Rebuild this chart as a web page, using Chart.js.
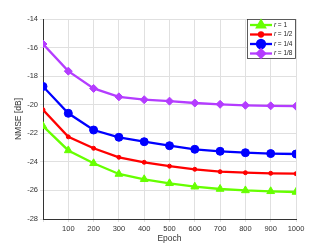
<!DOCTYPE html>
<html>
<head>
<meta charset="utf-8">
<script src="https://cdn.jsdelivr.net/npm/chart.js@4.4.0/dist/chart.umd.min.js"></script>
<style>
html, body { margin: 0; padding: 0; background: #fff; }
#wrap { width: 327px; height: 246px; }
</style>
</head>
<body>
<div id="wrap"><canvas id="nmseChart" width="327" height="246"></canvas></div>
<script>
// donnees
var epochs = [0, 100, 200, 300, 400, 500, 600, 700, 800, 900, 1000];
var seriesNames = ['1', '1/2', '1/4', '1/8'];
var nmseR1 = [-21.5, -23.2, -24.1, -24.85, -25.22, -25.5, -25.74, -25.9, -26.0, -26.06, -26.11];
var nmseR2 = [-20.35, -22.25, -23.05, -23.68, -24.03, -24.3, -24.52, -24.69, -24.76, -24.8, -24.83];
var nmseR4 = [-18.72, -20.6, -21.77, -22.28, -22.59, -22.87, -23.12, -23.26, -23.36, -23.42, -23.45];
var nmseR8 = [-15.75, -17.65, -18.86, -19.45, -19.65, -19.75, -19.88, -19.97, -20.04, -20.08, -20.1];
var yTicks = [-28, -26, -24, -22, -20, -18, -16, -14];

var colors = ['rgb(102,255,0)', 'rgb(255,0,0)', 'rgb(0,0,255)', 'rgb(180,60,255)'];
var markers = ['triangle', 'circle', 'circle', 'rectRot'];
var radii = [4.5, 2, 4, 4];
var allSeries = [nmseR1, nmseR2, nmseR4, nmseR8];

function toPoints(values) {
	return values.map(function(v, i) { return {x: epochs[i], y: v}; });
}

var datasets = allSeries.map(function(values, k) {
	return {
		label: 'r = ' + seriesNames[k],
		data: toPoints(values),
		borderColor: colors[k],
		backgroundColor: colors[k],
		borderWidth: 2.3,
		pointStyle: markers[k],
		pointRadius: radii[k],
		pointBorderWidth: 1,
		tension: 0
	};
});

// legende dessinee dans la zone du graphique (coin haut droit)
var insideLegend = {
	id: 'insideLegend',
	afterDraw: function(chart) {
		var c = chart.ctx;
		var area = chart.chartArea;
		var w = 49, h = 40;
		var x0 = area.right - w, y0 = area.top;
		c.save();
		c.fillStyle = '#fff';
		c.fillRect(x0, y0, w, h);
		c.strokeStyle = '#333';
		c.lineWidth = 0.8;
		c.strokeRect(x0 + 0.5, y0 + 0.5, w - 1, h - 1);
		chart.data.datasets.forEach(function(ds, k) {
			var yy = y0 + 6 + k * 9.5;
			c.strokeStyle = ds.borderColor;
			c.lineWidth = 2.3;
			c.beginPath();
			c.moveTo(x0 + 3, yy);
			c.lineTo(x0 + 25, yy);
			c.stroke();
			Chart.helpers.drawPoint(c, {pointStyle: ds.pointStyle, radius: ds.pointRadius, rotation: 0, borderWidth: 1}, x0 + 14, yy);
			c.fillStyle = ds.borderColor;
			c.fill();
			c.fillStyle = '#222';
			c.textBaseline = 'middle';
			c.font = 'italic 6.5px "Liberation Sans"';
			c.fillText('r', x0 + 27, yy);
			c.font = '6.5px "Liberation Sans"';
			c.fillText(' = ' + seriesNames[k], x0 + 29, yy);
		});
		c.restore();
	}
};

var ctx = document.getElementById('nmseChart').getContext('2d');
var nmseChart = new Chart(ctx, {
	type: 'line',
	data: { datasets: datasets },
	plugins: [insideLegend],
	options: {
		responsive: false,
		animation: false,
		layout: { padding: { left: 14, right: 31, top: 19, bottom: 0 } },
		plugins: { legend: { display: false }, tooltip: { enabled: false } },
		scales: {
			x: {
				type: 'linear',
				min: 0,
				max: 1000,
				afterFit: function(axis) { axis.height = 27; },
				border: { color: '#333', width: 1 },
				grid: { color: '#e0e0e0', lineWidth: 1, tickLength: 3 },
				ticks: {
					stepSize: 100,
					color: '#333',
					font: { size: 7.5, family: 'Liberation Sans' },
					maxRotation: 0,
					padding: 2,
					callback: function(v) { return v === 0 ? '' : v; }
				},
				title: { display: true, text: 'Epoch', color: '#333', font: { size: 8.5, family: 'Liberation Sans' }, padding: { top: 0, bottom: 2 } }
			},
			y: {
				min: -28,
				max: -14,
				afterFit: function(axis) { axis.width = 29; },
				border: { color: '#333', width: 1 },
				grid: { color: '#e0e0e0', lineWidth: 1, tickLength: 3 },
				afterBuildTicks: function(axis) {
					axis.ticks = yTicks.map(function(v) { return {value: v}; });
				},
				ticks: {
					color: '#333',
					font: { size: 7.5, family: 'Liberation Sans' },
					padding: 2
				},
				title: { display: true, text: 'NMSE [dB]', color: '#333', font: { size: 8.5, family: 'Liberation Sans' }, padding: { top: 0, bottom: 2 } }
			}
		}
	}
});
</script>
</body>
</html>
